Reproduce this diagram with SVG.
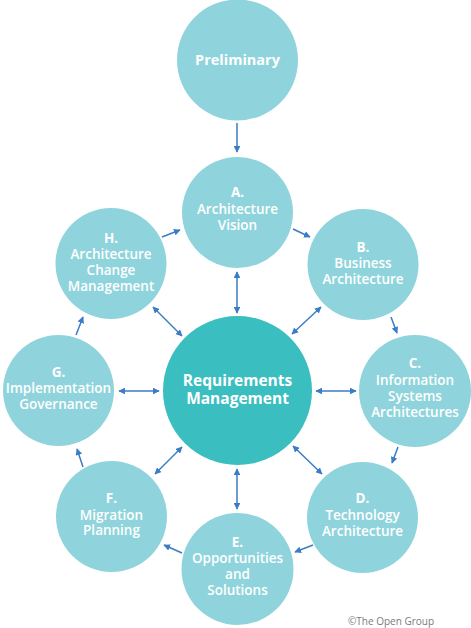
<svg xmlns="http://www.w3.org/2000/svg" width="471" height="628" viewBox="0 0 471 628">
<defs>
<marker id="ah" viewBox="0 0 10 10" refX="9" refY="5" markerWidth="4.5" markerHeight="4.5" orient="auto-start-reverse" markerUnits="strokeWidth">
<path d="M0,0 L10,5 L0,10 z" fill="#3a7cc6"/>
</marker>
<style>
.outer{fill:#8fd4dc}
.core{fill:#3bbec0}
.t{font-family:"Open Sans","Lato",sans-serif;font-size:13.5px;font-weight:600;fill:#ffffff;text-anchor:middle}
.b{font-weight:700}
.ct{font-family:"Open Sans","Lato",sans-serif;font-size:15.5px;font-weight:700;fill:#ffffff;text-anchor:middle}
.c{stroke:#3a7cc6;stroke-width:1.5;fill:none}
.one{marker-end:url(#ah)}
.two{marker-start:url(#ah);marker-end:url(#ah)}
.copy{font-family:"Open Sans","Liberation Sans",sans-serif;font-size:10px;fill:#7a7a7a;text-anchor:middle}
</style>
</defs>
<rect width="471" height="628" fill="#ffffff"/>
<g id="connectors">
<line class="c one" x1="237" y1="123" x2="237" y2="152"/>
<line class="c one" x1="293" y1="229" x2="310" y2="237"/>
<line class="c one" x1="391" y1="317" x2="397" y2="333"/>
<line class="c one" x1="398" y1="447" x2="392" y2="463"/>
<line class="c one" x1="313" y1="545" x2="295" y2="552"/>
<line class="c one" x1="182" y1="553" x2="164" y2="545"/>
<line class="c one" x1="83" y1="467" x2="77" y2="449"/>
<line class="c one" x1="76" y1="335" x2="83" y2="317"/>
<line class="c one" x1="162" y1="237" x2="180" y2="230"/>
<line class="c two" x1="237" y1="272" x2="237" y2="313"/>
<line class="c two" x1="153" y1="307" x2="182" y2="336"/>
<line class="c two" x1="321" y1="307" x2="292" y2="334"/>
<line class="c two" x1="119" y1="391" x2="159" y2="391"/>
<line class="c two" x1="316" y1="391" x2="356" y2="391"/>
<line class="c two" x1="155" y1="474" x2="182" y2="447"/>
<line class="c two" x1="293" y1="446" x2="322" y2="474"/>
<line class="c two" x1="237" y1="469" x2="237" y2="509"/>
</g>
<g id="preliminary">
<circle class="outer" cx="237.5" cy="60" r="60.5"/>
<text class="t b" x="237.5" y="65" style="font-size:14.5px">Preliminary</text>
</g>
<g id="a">
<circle class="outer" cx="237.5" cy="212.5" r="55.5"/>
<text class="t b" x="237.5" y="197">A.</text>
<text class="t" x="237.5" y="214">Architecture</text>
<text class="t" x="237.5" y="230">Vision</text>
</g>
<g id="b">
<circle class="outer" cx="363" cy="264.5" r="55.5"/>
<text class="t b" x="363" y="252">B.</text>
<text class="t" x="363" y="268">Business</text>
<text class="t" x="363" y="284">Architecture</text>
</g>
<g id="c">
<circle class="outer" cx="415" cy="391" r="56"/>
<text class="t b" x="415" y="368">C.</text>
<text class="t" x="415" y="385">Information</text>
<text class="t" x="415" y="401">Systems</text>
<text class="t" x="415" y="417">Architectures</text>
</g>
<g id="d">
<circle class="outer" cx="362.5" cy="517.5" r="55.5"/>
<text class="t b" x="362.5" y="503">D.</text>
<text class="t" x="362.5" y="520">Technology</text>
<text class="t" x="362.5" y="536">Architecture</text>
</g>
<g id="e">
<circle class="outer" cx="237.5" cy="569" r="56"/>
<text class="t b" x="237.5" y="547">E.</text>
<text class="t" x="237.5" y="563">Opportunities</text>
<text class="t" x="237.5" y="579">and</text>
<text class="t" x="237.5" y="595">Solutions</text>
</g>
<g id="f">
<circle class="outer" cx="111.5" cy="516.5" r="55.5"/>
<text class="t b" x="111.5" y="503">F.</text>
<text class="t" x="111.5" y="520">Migration</text>
<text class="t" x="111.5" y="535">Planning</text>
</g>
<g id="g">
<circle class="outer" cx="58.5" cy="390.5" r="55.5"/>
<text class="t b" x="58.5" y="377">G.</text>
<text class="t" x="58.5" y="393">Implementation</text>
<text class="t" x="58.5" y="409">Governance</text>
</g>
<g id="h">
<circle class="outer" cx="111" cy="263.5" r="55.5"/>
<text class="t b" x="111" y="243">H.</text>
<text class="t" x="111" y="259">Architecture</text>
<text class="t" x="111" y="275">Change</text>
<text class="t" x="111" y="291">Management</text>
</g>
<g id="requirements">
<circle class="core" cx="237.5" cy="390.5" r="74.5"/>
<text class="ct" x="237.5" y="386">Requirements</text>
<text class="ct" x="237.5" y="404">Management</text>
</g>
<text class="copy" x="391" y="625">©The Open Group</text>
</svg>
